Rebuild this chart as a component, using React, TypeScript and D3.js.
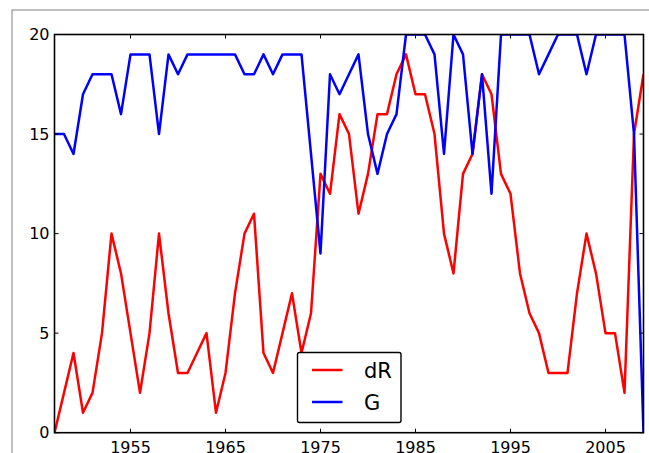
import React from 'react';
import * as d3 from 'd3';

const years = [
  1947, 1948, 1949, 1950, 1951, 1952, 1953, 1954, 1955, 1956,
  1957, 1958, 1959, 1960, 1961, 1962, 1963, 1964, 1965, 1966,
  1967, 1968, 1969, 1970, 1971, 1972, 1973, 1974, 1975, 1976,
  1977, 1978, 1979, 1980, 1981, 1982, 1983, 1984, 1985, 1986,
  1987, 1988, 1989, 1990, 1991, 1992, 1993, 1994, 1995, 1996,
  1997, 1998, 1999, 2000, 2001, 2002, 2003, 2004, 2005, 2006,
  2007, 2008, 2009,
];

const dR = [
  0, 2, 4, 1, 2, 5, 10, 8, 5, 2,
  5, 10, 6, 3, 3, 4, 5, 1, 3, 7,
  10, 11, 4, 3, 5, 7, 4, 6, 13, 12,
  16, 15, 11, 13, 16, 16, 18, 19, 17, 17,
  15, 10, 8, 13, 14, 18, 17, 13, 12, 8,
  6, 5, 3, 3, 3, 7, 10, 8, 5, 5,
  2, 15, 18,
];

const G = [
  15, 15, 14, 17, 18, 18, 18, 16, 19, 19,
  19, 15, 19, 18, 19, 19, 19, 19, 19, 19,
  18, 18, 19, 18, 19, 19, 19, 14, 9, 18,
  17, 18, 19, 15, 13, 15, 16, 20, 20, 20,
  19, 14, 20, 19, 14, 18, 12, 20, 20, 20,
  20, 18, 19, 20, 20, 20, 18, 20, 20, 20,
  20, 15, 0,
];

const xTicks = [1955, 1965, 1975, 1985, 1995, 2005];
const yTicks = [0, 5, 10, 15, 20];

const series = [
  { name: 'dR', values: dR, color: '#ff0000' },
  { name: 'G', values: G, color: '#0000ff' },
];

const W = 649;
const H = 453;
const left = 54.5;
const right = 643.5;
const top = 34.5;
const bottom = 432.7;

export default function App() {
  const x = d3.scaleLinear().domain([1947, 2009]).range([left, right]);
  const y = d3.scaleLinear().domain([0, 20]).range([bottom, top]);

  const line = d3.line<number>()
    .x((_, i) => x(years[i]))
    .y(d => y(d));

  const font = '"DejaVu Sans", sans-serif';

  return (
    <svg
      width={W}
      height={H}
      style={{ position: 'absolute', left: 0, top: 0, background: '#fff' }}
    >
      <rect x={12} y={10} width={700} height={500} fill="none" stroke="#aaa" strokeWidth={1.5} />
      <defs>
        <clipPath id="plot">
          <rect x={left} y={top} width={right - left} height={bottom - top} />
        </clipPath>
      </defs>
      <g clipPath="url(#plot)">
        {series.map(s => (
          <path
            key={s.name}
            d={line(s.values) ?? ''}
            fill="none"
            stroke={s.color}
            strokeWidth={2.5}
            strokeLinejoin="round"
          />
        ))}
      </g>

      {/* ticks point inward */}
      {xTicks.map(t => (
        <g key={'x' + t}>
          <line x1={x(t)} x2={x(t)} y1={bottom} y2={bottom - 4} stroke="#000" strokeWidth={1} />
          <line x1={x(t)} x2={x(t)} y1={top} y2={top + 4} stroke="#000" strokeWidth={1} />
          <text
            x={x(t)}
            y={bottom + 20}
            textAnchor="middle"
            fontFamily={font}
            fontSize={16}
            fill="#000"
          >
            {t}
          </text>
        </g>
      ))}
      {yTicks.map(t => (
        <g key={'y' + t}>
          <line x1={left} x2={left + 4} y1={y(t)} y2={y(t)} stroke="#000" strokeWidth={1} />
          <line x1={right} x2={right - 4} y1={y(t)} y2={y(t)} stroke="#000" strokeWidth={1} />
          <text
            x={left - 5}
            y={y(t)}
            dy="0.36em"
            textAnchor="end"
            fontFamily={font}
            fontSize={16}
            fill="#000"
          >
            {t}
          </text>
        </g>
      ))}

      <rect
        x={left}
        y={top}
        width={right - left}
        height={bottom - top}
        fill="none"
        stroke="#000"
        strokeWidth={1.6}
      />

      {/* legend */}
      <g>
        <rect x={297.5} y={352.5} width={103.5} height={70} rx={2} fill="#fff" stroke="#000" strokeWidth={1.4} />
        {series.map((s, i) => (
          <g key={'lg' + s.name} transform={`translate(0,${370 + i * 32})`}>
            <line x1={312} x2={342.5} y1={0} y2={0} stroke={s.color} strokeWidth={2.5} />
            <text x={364} y={0} dy="0.36em" fontFamily={font} fontSize={21} fill="#000">
              {s.name}
            </text>
          </g>
        ))}
      </g>
    </svg>
  );
}
